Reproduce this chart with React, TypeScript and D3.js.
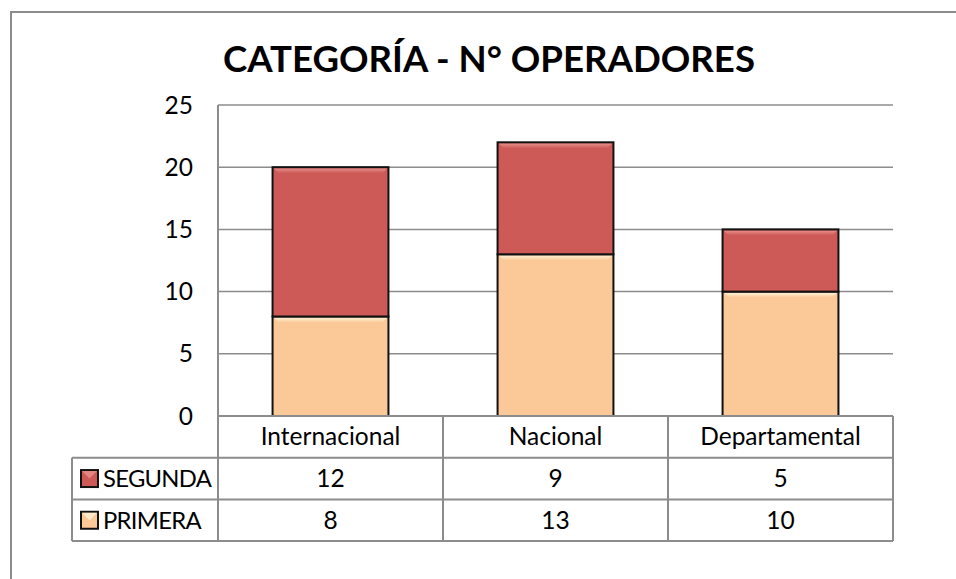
import React from 'react';
import * as d3 from 'd3';

const title = 'CATEGORÍA - N° OPERADORES';
const categories = ['Internacional', 'Nacional', 'Departamental'];
const primera = [8, 13, 10];
const segunda = [12, 9, 5];
const yTicks = [0, 5, 10, 15, 20, 25];
const seriesKeys = ['PRIMERA', 'SEGUNDA'];
const tableOrder = ['SEGUNDA', 'PRIMERA'];

const seriesValues: Record<string, number[]> = { PRIMERA: primera, SEGUNDA: segunda };
const baseColors: Record<string, string> = { PRIMERA: '#FBC997', SEGUNDA: '#CD5A57' };
const lightColors: Record<string, string> = { PRIMERA: '#FFF2D8', SEGUNDA: '#E8908C' };

const W = 956;
const H = 579;
const plotLeft = 218;
const plotRight = 893;
const plotTop = 105;
const plotBottom = 416;
const tableLeft = 72;
const rowH = 41.7;
const FONT = 'Lato, "Open Sans", sans-serif';
const GRID = '#8C8C8C';

export default function App() {
  const x = d3.scaleBand<string>().domain(categories).range([plotLeft, plotRight]).paddingInner(0.485).paddingOuter(0.2425);
  const band = d3.scaleBand<string>().domain(categories).range([plotLeft, plotRight]);
  const y = d3.scaleLinear().domain([0, 25]).range([plotBottom, plotTop]);

  const rows = categories.map((c, i) => ({ cat: c, PRIMERA: primera[i], SEGUNDA: segunda[i] }));
  const stack = d3.stack<any>().keys(seriesKeys)(rows);

  const tableRowsY = [1, 2, 3].map((i) => plotBottom + rowH * i);
  const tableBottom = plotBottom + rowH * 3;

  return (
    <svg width={W} height={H} style={{ position: 'absolute', left: 0, top: 0, background: '#fff' }}>
      <defs>
        {seriesKeys.map((k) => (
          <linearGradient key={k} id={`hl-${k}`} x1="0" y1="0" x2="0" y2="1">
            <stop offset="0" stopColor={lightColors[k]} />
            <stop offset="1" stopColor={baseColors[k]} />
          </linearGradient>
        ))}
      </defs>
      <rect x={0} y={0} width={W} height={H} fill="#fff" />
      <rect x={11} y={12} width={W + 40} height={H + 40} fill="none" stroke={GRID} strokeWidth={2} />

      <text x={489} y={72} textAnchor="middle" fontFamily={FONT} fontWeight={700} fontSize={36.6} fill="#000">
        {title}
      </text>

      {/* gridlines */}
      {yTicks.filter((t) => t > 0).map((t) => (
        <line key={t} x1={plotLeft} x2={plotRight} y1={y(t)} y2={y(t)} stroke={GRID} strokeWidth={1.5} />
      ))}
      {yTicks.map((t) => (
        <text key={'l' + t} x={193} y={y(t)} dy="0.35em" textAnchor="end" fontFamily={FONT} fontSize={24.5} fill="#000">
          {t}
        </text>
      ))}

      {/* bars */}
      {stack.map((s) => (
        <g key={s.key}>
          {s.map((d, i) => {
            const x0 = x(categories[i])!;
            const bw = x.bandwidth();
            const yTop = y(d[1]);
            const yBot = y(d[0]);
            const k = s.key as string;
            return (
              <g key={i}>
                <rect x={x0} y={yTop} width={bw} height={yBot - yTop} fill={baseColors[k]} />
                <polygon
                  points={`${x0 + 1},${yTop + 1} ${x0 + bw - 1},${yTop + 1} ${x0 + bw - 6},${yTop + 6} ${x0 + 6},${yTop + 6}`}
                  fill={`url(#hl-${k})`}
                />
                <rect x={x0} y={yTop} width={bw} height={yBot - yTop} fill="none" stroke="#111" strokeWidth={2} />
              </g>
            );
          })}
        </g>
      ))}

      {/* axis lines */}
      <line x1={plotLeft} x2={plotLeft} y1={plotTop} y2={tableBottom} stroke={GRID} strokeWidth={2} />
      <line x1={plotLeft} x2={plotRight} y1={plotBottom} y2={plotBottom} stroke={GRID} strokeWidth={2} />

      {/* data table */}
      {tableRowsY.map((ty) => (
        <line key={ty} x1={tableLeft} x2={plotRight} y1={ty} y2={ty} stroke={GRID} strokeWidth={2} />
      ))}
      <line x1={tableLeft} x2={tableLeft} y1={plotBottom + rowH} y2={tableBottom} stroke={GRID} strokeWidth={2} />
      {categories.map((c) => (
        <line key={'v' + c} x1={band(c)! + band.bandwidth()} x2={band(c)! + band.bandwidth()} y1={plotBottom} y2={tableBottom} stroke={GRID} strokeWidth={2} />
      ))}
      {categories.map((c) => (
        <text key={'h' + c} x={band(c)! + band.bandwidth() / 2} y={plotBottom + rowH / 2} dy="0.35em" textAnchor="middle" fontFamily={FONT} fontSize={24.5} fill="#000">
          {c}
        </text>
      ))}
      {tableOrder.map((k, ri) => {
        const cy = plotBottom + rowH * (ri + 1) + rowH / 2;
        return (
          <g key={'r' + k}>
            <rect x={81} y={cy - 8.5} width={17} height={17} fill={baseColors[k]} stroke="#111" strokeWidth={2} />
            <polygon points={`${82},${cy - 7.5} ${97},${cy - 7.5} ${89.5},${cy}`} fill={lightColors[k]} opacity={0.8} />
            <text x={103} y={cy} dy="0.35em" fontFamily={FONT} fontSize={23.8} letterSpacing={-0.7} fill="#000">
              {k}
            </text>
            {categories.map((c, ci) => (
              <text key={c} x={band(c)! + band.bandwidth() / 2} y={cy} dy="0.35em" textAnchor="middle" fontFamily={FONT} fontSize={24.5} fill="#000">
                {seriesValues[k][ci]}
              </text>
            ))}
          </g>
        );
      })}
    </svg>
  );
}
